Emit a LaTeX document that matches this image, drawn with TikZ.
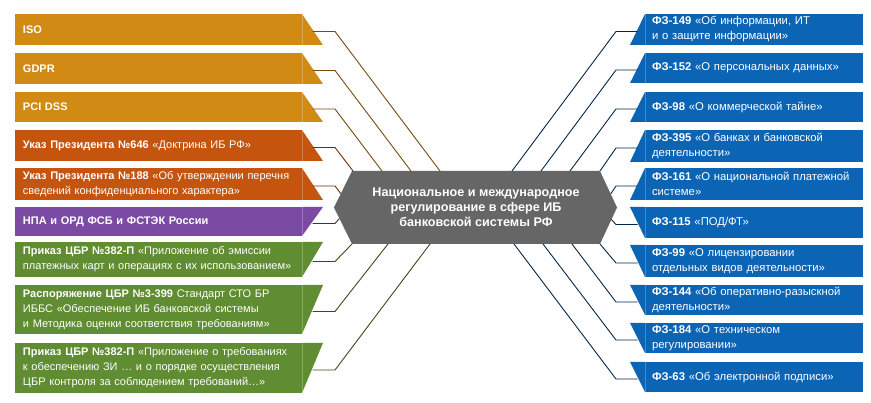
\documentclass[tikz,border=0pt]{standalone}
\usepackage{fontspec}
\setmainfont{Liberation Sans}
\usetikzlibrary{calc}
\usetikzlibrary{backgrounds}

\definecolor{isogold}{RGB}{209,139,20}
\definecolor{ukazrust}{RGB}{196,84,14}
\definecolor{fsbviolet}{RGB}{123,74,163}
\definecolor{cbrgreen}{RGB}{96,140,50}
\definecolor{fzblue}{RGB}{12,100,181}
\definecolor{hexgray}{RGB}{102,102,102}

\tikzset{
    lbox/.style={fill=#1, text=white, anchor=north west, outer sep=0pt,
        inner xsep=8pt, inner ysep=2pt, text width=271pt, minimum height=31pt,
        align=left, font=\fontsize{11}{15}\selectfont},
    rbox/.style={fill=#1, text=white, anchor=north east, outer sep=0pt,
        inner xsep=7pt, inner ysep=2pt, text width=204pt, minimum height=31pt,
        align=left, font=\fontsize{11.3}{15}\selectfont},
    hexbox/.style={text=white, outer sep=0pt, minimum width=248pt, minimum height=73pt,
        align=center, font=\bfseries\fontsize{12.6}{14.8}\selectfont},
    link/.style={line width=0.9pt, #1}
}

\begin{document}
\begin{tikzpicture}[x=1pt, y=-1pt]
        \useasboundingbox (0,0) rectangle (871,403);

        % centre
        \node[hexbox] (hex) at (476,207.5) {Национальное и международное\\ регулирование в сфере ИБ\\ банковской системы РФ};
        \coordinate (hexw) at ($(hex.west)+(-18,0)$);
        \coordinate (hexe) at ($(hex.east)+(17,0)$);
        \begin{scope}[on background layer]
            \fill[hexgray] (hex.north west) -- (hex.north east) -- (hexe) -- (hex.south east) -- (hex.south west) -- (hexw) -- cycle;
        \end{scope}

        % left column: international and national acts
        \node[lbox=isogold] (iso) at (15,14) {\textbf{ISO}};
        \node[lbox=isogold] (gdpr) at (15,53) {\textbf{GDPR}};
        \node[lbox=isogold, minimum height=30pt] (pci) at (15,92) {\textbf{PCI DSS}};
        \node[lbox=ukazrust] (ukaz646) at (15,130) {\textbf{Указ Президента №646} «Доктрина ИБ РФ»};
        \node[lbox=ukazrust, minimum height=32pt] (ukaz188) at (15,168) {\textbf{Указ Президента №188} «Об утверждении перечня\\ сведений конфиденциального характера»};
        \node[lbox=fsbviolet, minimum height=29pt] (npa) at (15,207) {\textbf{НПА и ОРД ФСБ и ФСТЭК России}};
        \node[lbox=cbrgreen, minimum height=35pt] (prikaz) at (15,242) {\textbf{Приказ ЦБР №382-П} «Приложение об эмиссии\\ платежных карт и операциях с их использованием»};
        \node[lbox=cbrgreen, minimum height=49pt] (rasp) at (15,285) {\textbf{Распоряжение ЦБР №3-399} Стандарт СТО БР\\ ИББС «Обеспечение ИБ банковской системы\\ и Методика оценки соответствия требованиям»};
        \node[lbox=cbrgreen, minimum height=50pt] (prikazzi) at (15,343) {\textbf{Приказ ЦБР №382-П} «Приложение о требованиях\\ к обеспечению ЗИ … и о порядке осуществления\\ ЦБР контроля за соблюдением требований…»};

        % left slanted ends
        \foreach \n/\c in {iso/isogold, gdpr/isogold, pci/isogold, ukaz646/ukazrust, ukaz188/ukazrust} {
            \fill[\c] (\n.north east) -- (\n.south east) -- ++(21,0) -- cycle;
            \draw[white, opacity=0.25, thin] (\n.north east) -- (\n.south east);
        }
        \foreach \n/\c in {npa/fsbviolet, prikaz/cbrgreen, rasp/cbrgreen, prikazzi/cbrgreen} {
            \fill[\c] (\n.north east) -- ++(21,0) -- (\n.south east) -- cycle;
            \draw[white, opacity=0.25, thin] (\n.north east) -- (\n.south east);
        }

        % right column: federal laws
        \node[rbox=fzblue] (fz149) at (863,14) {\textbf{ФЗ-149} «Об информации, ИТ\\ и о защите информации»};
        \node[rbox=fzblue, minimum height=30pt] (fz152) at (863,53) {\textbf{ФЗ-152} «О персональных данных»};
        \node[rbox=fzblue, minimum height=30pt] (fz98) at (863,92) {\textbf{ФЗ-98} «О коммерческой тайне»};
        \node[rbox=fzblue, minimum height=32pt] (fz395) at (863,130) {\textbf{ФЗ-395} «О банках и банковской\\ деятельности»};
        \node[rbox=fzblue, minimum height=32pt] (fz161) at (863,168) {\textbf{ФЗ-161} «О национальной платежной\\ системе»};
        \node[rbox=fzblue] (fz115) at (863,207) {\textbf{ФЗ-115} «ПОД/ФТ»};
        \node[rbox=fzblue, minimum height=32pt] (fz99) at (863,245) {\textbf{ФЗ-99} «О лицензировании\\ отдельных видов деятельности»};
        \node[rbox=fzblue, minimum height=30pt] (fz144) at (863,285) {\textbf{ФЗ-144} «Об оперативно-разыскной\\ деятельности»};
        \node[rbox=fzblue, minimum height=30pt] (fz184) at (863,323) {\textbf{ФЗ-184} «О техническом\\ регулировании»};
        \node[rbox=fzblue, minimum height=30pt] (fz63) at (863,362) {\textbf{ФЗ-63} «Об электронной подписи»};

        % right slanted ends
        \foreach \n in {fz149, fz152, fz98, fz395, fz161} {
            \fill[fzblue] (\n.north west) -- (\n.south west) -- ++(-15,0) -- cycle;
            \draw[white, opacity=0.25, thin] (\n.north west) -- (\n.south west);
        }
        \foreach \n in {fz115, fz99, fz144, fz184, fz63} {
            \fill[fzblue] (\n.north west) -- ++(-15,0) -- (\n.south west) -- cycle;
            \draw[white, opacity=0.25, thin] (\n.north west) -- (\n.south west);
        }

        % left connectors
        \foreach \n/\c/\dx in {iso/isogold/88, gdpr/isogold/59, pci/isogold/30, ukaz646/ukazrust/1} {
            \draw[link=\c!55!black] ($(\n.east)+(10.5,2)$) -- ++(22.5,0) -- ($(hex.north west)+(\dx,0)$);
        }
        \draw[link=ukazrust!55!black] ($(ukaz188.east)+(10.5,2)$) -- ++(22.5,0) -- ($(hex.north west)!0.62!(hexw)$);
        \draw[link=fsbviolet!55!black] ($(npa.east)+(10.5,2)$) -- ++(22.5,0) -- ($(hexw)!0.3!(hex.south west)$);
        \foreach \n/\dx in {prikaz/0, rasp/36, prikazzi/78} {
            \draw[link=cbrgreen!55!black] ($(\n.east)+(10.5,2)$) -- ++(22.5,0) -- ($(hex.south west)+(\dx,0)$);
        }

        % right connectors
        \foreach \n/\dx in {fz149/-88, fz152/-59, fz98/-30, fz395/0} {
            \draw[link=fzblue!40!black] ($(\n.west)+(-7.5,2)$) -- ++(-21.5,0) -- ($(hex.north east)+(\dx,0)$);
        }
        \draw[link=fzblue!40!black] ($(fz161.west)+(-7.5,2)$) -- ++(-21.5,0) -- ($(hex.north east)!0.63!(hexe)$);
        \draw[link=fzblue!40!black] ($(fz115.west)+(-7.5,2)$) -- ++(-21.5,0) -- ($(hexe)!0.33!(hex.south east)$);
        \foreach \n/\dx in {fz99/0, fz144/-28, fz184/-57, fz63/-86} {
            \draw[link=fzblue!40!black] ($(\n.west)+(-7.5,2)$) -- ++(-21.5,0) -- ($(hex.south east)+(\dx,0)$);
        }

    \end{tikzpicture}
\end{document}
